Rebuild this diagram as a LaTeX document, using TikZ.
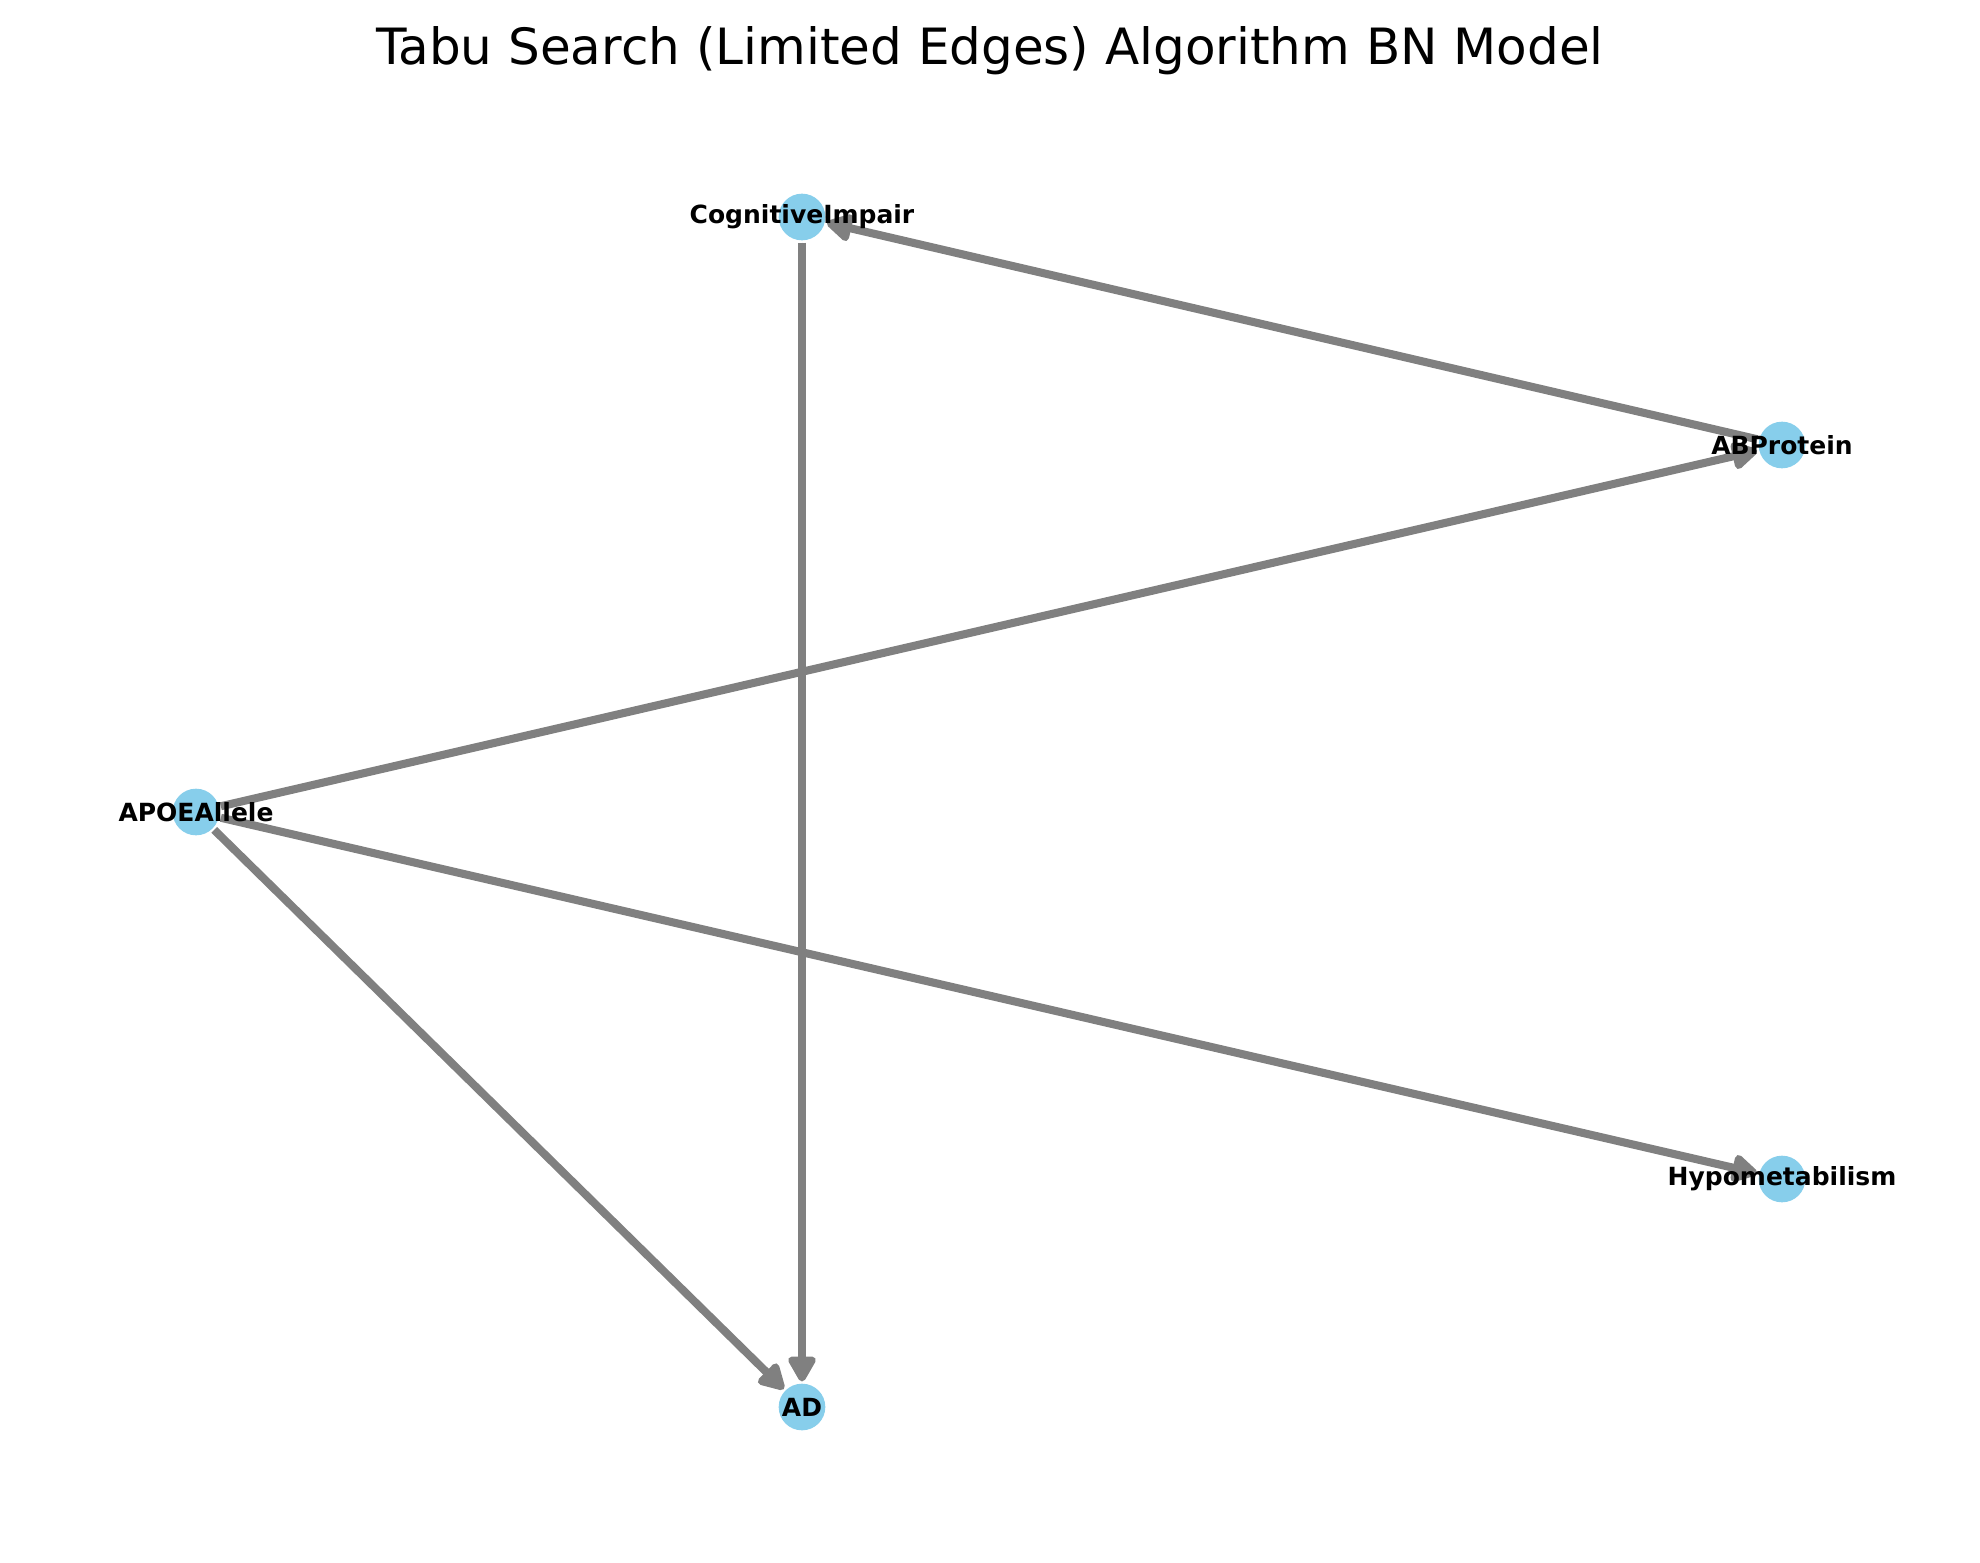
\documentclass[tikz,border=0pt]{standalone}
\usepackage{fontspec}
\setmainfont{DejaVu Sans}
\usetikzlibrary{arrows.meta}
\definecolor{nodeBlue}{RGB}{135, 206, 235}
\definecolor{edgeGray}{RGB}{128, 128, 128}
\tikzset{>={Triangle[length=10.5pt,width=11pt,round]}}

\begin{document}
\begin{tikzpicture}[
    x = 0.36pt, y = -0.36pt,
    var/.style = {circle, fill=nodeBlue, minimum size=16.8pt, inner sep=0pt,
        outer sep = 0.8pt},
    lbl/.style = {font=\bfseries\fontsize{9}{11}\selectfont, inner sep=0pt},
    edge/.style = {->, draw=edgeGray, fill=edgeGray, line width=2.9pt}
  ]
  \useasboundingbox (0,0) rectangle (1980,1563);

  \node[font=\fontsize{18}{22}\selectfont] (title) at (990,51)
    {Tabu Search (Limited Edges) Algorithm BN Model};

  % variables
  \node[var] (cog) at (802,217) {};
  \node[var] (abp) at (1782,445) {};
  \node[var] (apoe) at (196,812) {};
  \node[var] (hypo) at (1782,1179) {};
  \node[var] (ad) at (802,1407) {};

  % arcs
  \foreach \a/\b in {cog/ad, abp/cog, apoe/abp, apoe/hypo, apoe/ad}
  \draw[edge] (\a) -- (\b);

  \node[lbl] at (cog) {CognitiveImpair};
  \node[lbl] at (abp) {ABProtein};
  \node[lbl] at (apoe) {APOEAllele};
  \node[lbl] at (hypo) {Hypometabilism};
  \node[lbl] at (ad) {AD};
\end{tikzpicture}
\end{document}
